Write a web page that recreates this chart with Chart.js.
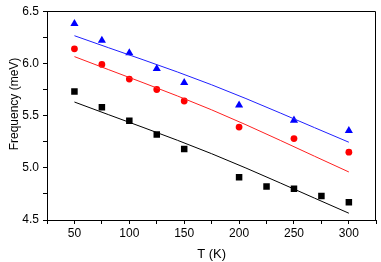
<!DOCTYPE html>
<html>
<head>
<meta charset="utf-8">
<script src="https://cdn.jsdelivr.net/npm/chart.js@4.4.0/dist/chart.umd.min.js"></script>
<style>
  html, body { margin: 0; padding: 0; background: #fff; }
</style>
</head>
<body>
<canvas id="chart" width="381" height="262"></canvas>
<script>
// measured points
const tempsBlack = [50, 75, 100, 125, 150, 200, 225, 250, 275, 300];
const freqBlack = [5.73, 5.58, 5.45, 5.32, 5.18, 4.91, 4.82, 4.80, 4.73, 4.67];
const temps = [50, 75, 100, 125, 150, 200, 250, 300];
const freqRed = [6.14, 5.99, 5.85, 5.75, 5.64, 5.39, 5.28, 5.15];
const freqBlue = [6.38, 6.22, 6.10, 5.95, 5.815, 5.60, 5.455, 5.355];

// fit lines
const fitTemps = [50, 175, 300];
const fitBlack = [5.63, 5.135, 4.565];
const fitRed = [6.065, 5.555, 4.96];
const fitBlue = [6.265, 5.795, 5.245];

const xTicks = [50, 100, 150, 200, 250, 300];
const yTicks = [4.5, 5.0, 5.5, 6.0, 6.5];
const yTitle = 'Frequency (meV)';

const pts = (xs, ys) => xs.map((x, i) => ({ x: x, y: ys[i] }));

const fontFamily = "'Liberation Sans', Arial, sans-serif";

// closes the box and draws the y title a bit above centre, like the original
const frame = {
    id: 'frame',
    afterDraw(chart) {
        const a = chart.chartArea;
        const ctx = chart.ctx;
        ctx.save();
        ctx.strokeStyle = '#000';
        ctx.lineWidth = 1;
        ctx.beginPath();
        ctx.moveTo(Math.round(a.left) + 0.5, Math.round(a.top) + 0.5);
        ctx.lineTo(Math.round(a.right) - 0.5, Math.round(a.top) + 0.5);
        ctx.lineTo(Math.round(a.right) - 0.5, Math.round(a.bottom) + 0.5);
        ctx.stroke();

        ctx.translate(15, 104);
        ctx.rotate(-Math.PI / 2);
        ctx.fillStyle = '#000';
        ctx.font = '12px ' + fontFamily;
        ctx.textAlign = 'center';
        ctx.textBaseline = 'middle';
        ctx.fillText(yTitle, 0, 0);
        ctx.restore();
    }
};

const font = { family: fontFamily, size: 12 };

new Chart(document.getElementById('chart'), {
    type: 'scatter',
    data: {
        datasets: [
            { data: pts(fitTemps, fitBlack), showLine: true, borderColor: '#000', borderWidth: 1, pointRadius: 0, cubicInterpolationMode: 'monotone' },
            { data: pts(fitTemps, fitRed), showLine: true, borderColor: '#ff2020', borderWidth: 1, pointRadius: 0, cubicInterpolationMode: 'monotone' },
            { data: pts(fitTemps, fitBlue), showLine: true, borderColor: '#2020ff', borderWidth: 1, pointRadius: 0, cubicInterpolationMode: 'monotone' },
            { data: pts(tempsBlack, freqBlack), pointStyle: 'rect', pointRadius: 4.6, backgroundColor: '#000', borderWidth: 0 },
            { data: pts(temps, freqRed), pointStyle: 'circle', pointRadius: 3.4, backgroundColor: '#ff0000', borderWidth: 0 },
            { data: pts(temps, freqBlue), pointStyle: 'triangle', pointRadius: 4.7, backgroundColor: '#0000ff', borderWidth: 0 }
        ]
    },
    options: {
        responsive: false,
        animation: false,
        devicePixelRatio: 1,
        layout: { padding: { top: 5, right: 1, left: 0, bottom: 0 } },
        plugins: { legend: { display: false }, tooltip: { enabled: false } },
        scales: {
            x: {
                type: 'linear',
                min: 25,
                max: 325,
                afterFit: (s) => { s.height = 42; },
                ticks: {
                    stepSize: 25,
                    color: '#000',
                    font: font,
                    padding: 2,
                    maxRotation: 0,
                    autoSkip: false,
                    callback: (v) => xTicks.includes(v) ? String(v) : ''
                },
                grid: { drawOnChartArea: false, tickLength: 4, tickColor: '#000' },
                border: { color: '#000', width: 1 },
                title: { display: true, text: 'T (K)', color: '#000', font: { family: fontFamily, size: 13 }, padding: { top: 2, bottom: 0 } }
            },
            y: {
                min: 4.5,
                max: 6.5,
                afterFit: (s) => { s.width = 47; },
                ticks: {
                    stepSize: 0.25,
                    color: '#000',
                    font: font,
                    padding: 4,
                    autoSkip: false,
                    callback: (v) => yTicks.some(t => Math.abs(t - v) < 1e-6) ? v.toFixed(1) : ''
                },
                grid: { drawOnChartArea: false, tickLength: 4, tickColor: '#000' },
                border: { color: '#000', width: 1 }
            }
        }
    },
    plugins: [frame]
});
</script>
</body>
</html>
